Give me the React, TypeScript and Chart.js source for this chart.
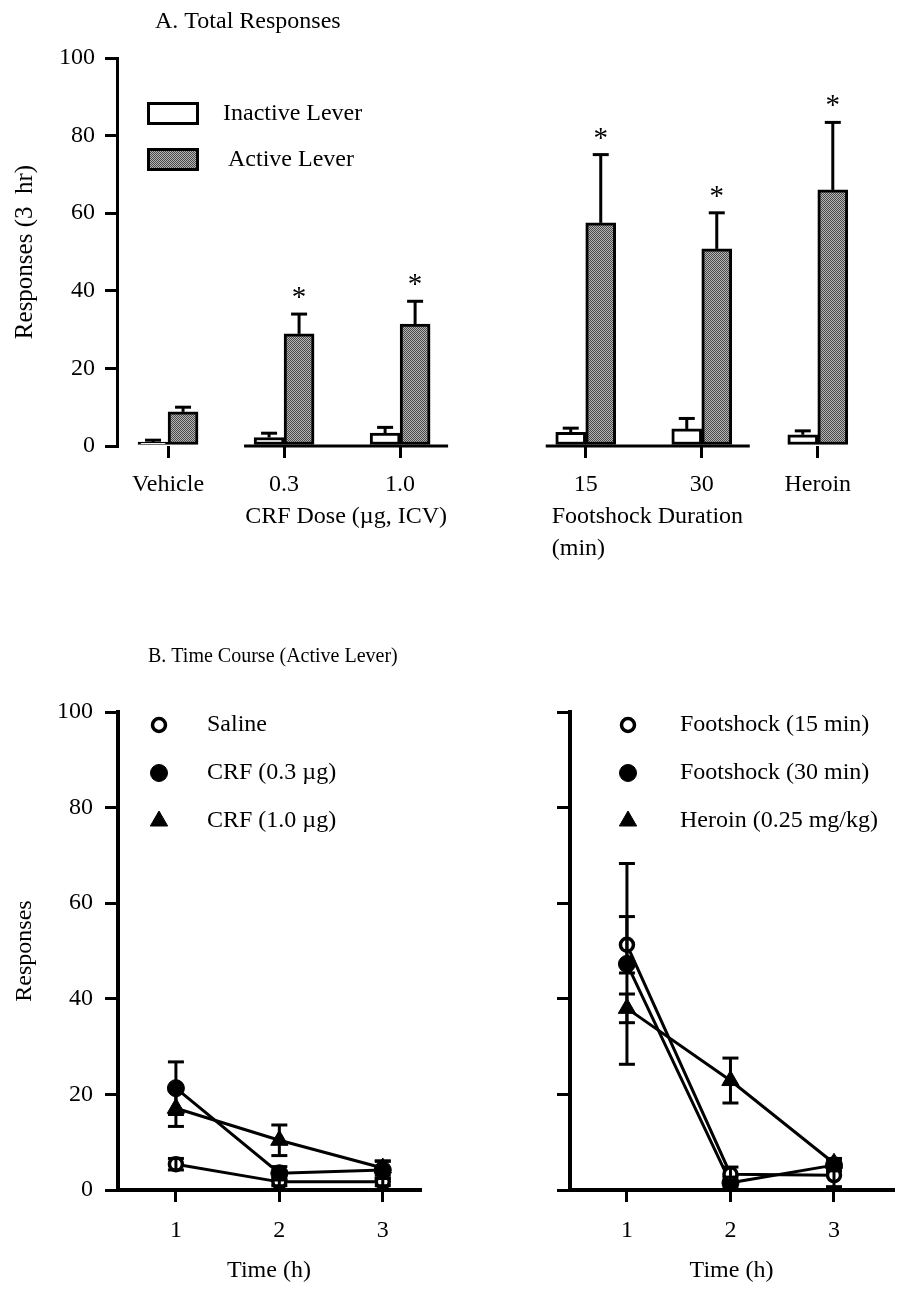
import React, { useEffect, useRef } from 'react';
import { Chart, registerables } from 'chart.js';

Chart.register(...registerables);

const FONT = '"Liberation Serif", "Times New Roman", Times, serif';
Chart.defaults.font.family = FONT;
Chart.defaults.color = '#000';

// ---------- Panel A: Total Responses ----------
const groupLabels = ['Vehicle', '0.3', '1.0', '15', '30', 'Heroin'];
const groupPositions = [1, 2, 3, 4.6, 5.6, 6.6];
const inactiveMeans = [1.0, 2.2, 3.3, 3.5, 4.4, 2.9];
const inactiveSem = [0.5, 1.1, 1.5, 1.1, 2.7, 1.0];
const activeMeans = [8.8, 28.9, 31.4, 57.5, 50.8, 66.0];
const activeSem = [1.2, 5.1, 5.9, 17.6, 9.3, 17.4];
const activeSignificant = [false, true, true, true, true, true];
const yTicksA = [0, 20, 40, 60, 80, 100];
const baselineGroups = [[1, 2], [3, 4]];

// ---------- Panel B: Time Course (Active Lever) ----------
const hours = [1, 2, 3];
const yTicksB = [0, 20, 40, 60, 80, 100];
const salineMeans = [5.4, 1.7, 1.7];
const salineSem = [1.2, 0.8, 0.8];
const crf03Means = [21.3, 3.5, 4.2];
const crf03Sem = [5.5, 1.4, 1.8];
const crf10Means = [17.1, 10.4, 4.6];
const crf10Sem = [3.8, 3.2, 1.5];
const fs15Means = [51.3, 3.3, 3.1];
const fs15Sem = [5.9, 1.5, 2.4];
const fs30Means = [47.3, 1.5, 5.2];
const fs30Sem = [21.0, 1.2, 1.2];
const heroinMeans = [38.0, 22.9, 5.6];
const heroinSem = [3.0, 4.7, 1.0];

const f = (size: number, style = 'normal') => ({ family: FONT, size, style: style as any });

function makePattern(): any {
  const c = document.createElement('canvas');
  c.width = 4;
  c.height = 4;
  const g = c.getContext('2d')!;
  g.fillStyle = '#b4b4b4';
  g.fillRect(0, 0, 4, 4);
  g.fillStyle = '#4a4a4a';
  for (let yy = 0; yy < 4; yy++) for (let xx = 0; xx < 4; xx++) if ((xx + yy) % 2 === 0) g.fillRect(xx, yy, 1, 1);
  return g.createPattern(c, 'repeat');
}

function line(ctx: CanvasRenderingContext2D, x1: number, y1: number, x2: number, y2: number) {
  ctx.beginPath();
  ctx.moveTo(x1, y1);
  ctx.lineTo(x2, y2);
  ctx.stroke();
}

function drawMarker(ctx: CanvasRenderingContext2D, ds: any, x: number, y: number) {
  const r = ds.pointRadius;
  ctx.save();
  ctx.beginPath();
  if (ds.pointStyle === 'triangle') {
    ctx.moveTo(x, y - r);
    ctx.lineTo(x + 0.866 * r, y + 0.5 * r);
    ctx.lineTo(x - 0.866 * r, y + 0.5 * r);
    ctx.closePath();
  } else {
    ctx.arc(x, y, r, 0, Math.PI * 2);
  }
  ctx.fillStyle = ds.pointBackgroundColor;
  ctx.fill();
  ctx.lineWidth = ds.pointBorderWidth;
  ctx.strokeStyle = ds.pointBorderColor;
  ctx.stroke();
  ctx.restore();
}

const panelAPlugin = {
  id: 'panelA',
  afterDatasetsDraw(chart: any) {
    const { ctx, chartArea, scales } = chart;
    const x = scales.x;
    const y = scales.y;
    ctx.save();
    ctx.strokeStyle = '#000';
    ctx.fillStyle = '#000';
    ctx.lineWidth = 3;
    // baselines under grouped conditions
    const y0 = y.getPixelForValue(0);
    baselineGroups.forEach(([a, b]) => {
      const e0 = chart.getDatasetMeta(0).data[a];
      const e1 = chart.getDatasetMeta(1).data[b];
      line(ctx, e0.x - e0.width / 2 - 10, y0, e1.x + e1.width / 2 + 18, y0);
    });
    // error bars (upward SEM) + significance
    const series = [
      [inactiveMeans, inactiveSem],
      [activeMeans, activeSem],
    ];
    series.forEach(([m, s], d) => {
      chart.getDatasetMeta(d).data.forEach((el: any, i: number) => {
        const top = y.getPixelForValue(m[i] + s[i]);
        line(ctx, el.x, el.y, el.x, top);
        line(ctx, el.x - 8, top, el.x + 8, top);
        if (d === 1 && activeSignificant[i]) {
          ctx.font = `29px ${FONT}`;
          ctx.textAlign = 'center';
          ctx.textBaseline = 'alphabetic';
          ctx.fillText('*', el.x, top - 8);
        }
      });
    });
    // title
    ctx.font = `24px ${FONT}`;
    ctx.textAlign = 'left';
    ctx.textBaseline = 'middle';
    ctx.fillText('A. Total Responses', 155, 22);
    // group sub-labels
    const b = chartArea.bottom;
    ctx.textAlign = 'center';
    ctx.fillText('CRF Dose (\u00b5g, ICV)', (x.getPixelForValue(groupPositions[1]) + x.getPixelForValue(groupPositions[2])) / 2 + 4, b + 71);
    ctx.textAlign = 'left';
    const fsLeft = x.getPixelForValue(groupPositions[3]) - 34;
    ctx.fillText('Footshock Duration', fsLeft, b + 71);
    ctx.fillText('(min)', fsLeft, b + 103);
    // legend
    const lx = chartArea.left + 30;
    const items = [
      { ds: chart.data.datasets[0], top: chartArea.top + 44, tx: chartArea.left + 106 },
      { ds: chart.data.datasets[1], top: chartArea.top + 90, tx: chartArea.left + 111 },
    ];
    items.forEach(({ ds, top, tx }) => {
      ctx.fillStyle = ds.backgroundColor;
      ctx.fillRect(lx, top, 52, 23);
      ctx.lineWidth = 3;
      ctx.strokeStyle = '#000';
      ctx.strokeRect(lx + 1.5, top + 1.5, 49, 20);
      ctx.fillStyle = '#000';
      ctx.textBaseline = 'middle';
      ctx.font = `24px ${FONT}`;
      ctx.fillText(ds.label, tx, top + 12);
    });
    ctx.restore();
  },
};

function configA(): any {
  const pattern = makePattern();
  return {
    type: 'bar',
    data: {
      datasets: [
        {
          label: 'Inactive Lever',
          data: groupPositions.map((v, i) => ({ x: v, y: inactiveMeans[i] })),
          backgroundColor: '#ffffff',
          borderColor: '#000',
          borderWidth: 3,
          borderSkipped: false,
          barThickness: 30,
        },
        {
          label: 'Active Lever',
          data: groupPositions.map((v, i) => ({ x: v, y: activeMeans[i] })),
          backgroundColor: pattern,
          borderColor: '#000',
          borderWidth: 3,
          borderSkipped: false,
          barThickness: 30,
        },
      ],
    },
    options: {
      animation: false,
      responsive: false,
      layout: { padding: { top: 58, right: 34, left: 0, bottom: 0 } },
      plugins: { legend: { display: false }, tooltip: { enabled: false } },
      scales: {
        x: {
          type: 'linear',
          min: 0.56,
          max: 7.05,
          offset: false,
          afterBuildTicks: (s: any) => {
            s.ticks = groupPositions.map((v) => ({ value: v }));
          },
          afterFit: (s: any) => {
            s.height = 154;
          },
          border: { display: false },
          grid: { offset: false, drawOnChartArea: false, drawTicks: true, tickLength: 12, lineWidth: 3, color: '#000' },
          ticks: {
            autoSkip: false,
            maxRotation: 0,
            padding: 12,
            font: f(24),
            color: '#000',
            callback: (_v: any, i: number) => groupLabels[i],
          },
        },
        y: {
          min: 0,
          max: 100,
          afterBuildTicks: (s: any) => {
            s.ticks = yTicksA.map((v) => ({ value: v }));
          },
          afterFit: (s: any) => {
            s.width = 117;
          },
          border: { display: true, width: 3, color: '#000' },
          grid: { drawOnChartArea: false, drawTicks: true, tickLength: 12, lineWidth: 3, color: '#000' },
          ticks: { padding: 10, font: f(24), color: '#000' },
          title: { display: true, text: 'Responses (3  hr)', font: f(25), color: '#000', padding: { top: 10, bottom: 0 } },
        },
      },
    },
    plugins: [panelAPlugin],
  };
}

const panelBPlugin = {
  id: 'panelB',
  afterDatasetsDraw(chart: any, _args: any, opts: any) {
    const { ctx, chartArea, scales } = chart;
    const y = scales.y;
    ctx.save();
    ctx.strokeStyle = '#000';
    ctx.lineWidth = 3;
    chart.data.datasets.forEach((ds: any, d: number) => {
      const sem = ds.sem as number[];
      chart.getDatasetMeta(d).data.forEach((el: any, i: number) => {
        const m = ds.data[i].y;
        const top = y.getPixelForValue(m + sem[i]);
        const bot = y.getPixelForValue(Math.max(0, m - sem[i]));
        line(ctx, el.x, top, el.x, bot);
        line(ctx, el.x - 8, top, el.x + 8, top);
        line(ctx, el.x - 8, bot, el.x + 8, bot);
      });
    });
    // legend
    chart.data.datasets.forEach((ds: any, d: number) => {
      const yy = chartArea.top + 13 + d * 48;
      drawMarker(ctx, ds, chartArea.left + opts.markerX, yy);
      ctx.fillStyle = '#000';
      ctx.font = `24px ${FONT}`;
      ctx.textAlign = 'left';
      ctx.textBaseline = 'middle';
      ctx.fillText(ds.label, chartArea.left + opts.textX, yy);
    });
    if (opts.title) {
      ctx.font = `20px ${FONT}`;
      ctx.textAlign = 'left';
      ctx.textBaseline = 'middle';
      ctx.fillText(opts.title, 148, 37);
    }
    ctx.restore();
  },
};

function lineDs(label: string, means: number[], sem: number[], kind: 'open' | 'filled' | 'triangle') {
  return {
    label,
    data: hours.map((h, i) => ({ x: h, y: means[i] })),
    sem,
    borderColor: '#000',
    borderWidth: 3,
    pointStyle: kind === 'triangle' ? 'triangle' : 'circle',
    pointRadius: kind === 'open' ? 6.5 : kind === 'filled' ? 8.5 : 10,
    pointBackgroundColor: kind === 'open' ? '#fff' : '#000',
    pointBorderColor: '#000',
    pointBorderWidth: kind === 'open' ? 3.5 : 1,
    fill: false,
    tension: 0,
  };
}

function configB(datasets: any[], o: { yWidth: number; padRight: number; min: number; max: number; showY: boolean; title?: string; markerX: number; textX: number }): any {
  return {
    type: 'line',
    data: { datasets },
    options: {
      animation: false,
      responsive: false,
      layout: { padding: { top: 92, right: o.padRight, left: 0, bottom: 0 } },
      plugins: {
        legend: { display: false },
        tooltip: { enabled: false },
        panelB: { title: o.title, markerX: o.markerX, textX: o.textX },
      },
      scales: {
        x: {
          type: 'linear',
          min: o.min,
          max: o.max,
          afterBuildTicks: (s: any) => {
            s.ticks = hours.map((v) => ({ value: v }));
          },
          afterFit: (s: any) => {
            s.height = 105;
          },
          border: { display: true, width: 4, color: '#000' },
          grid: { drawOnChartArea: false, drawTicks: true, tickLength: 12, lineWidth: 3, color: '#000' },
          ticks: { padding: 14, font: f(24), color: '#000', callback: (v: any) => String(v) },
          title: { display: true, text: 'Time (h)', font: f(24), color: '#000', padding: { top: 0, bottom: 10 } },
        },
        y: {
          min: 0,
          max: 100,
          afterBuildTicks: (s: any) => {
            s.ticks = yTicksB.map((v) => ({ value: v }));
          },
          afterFit: (s: any) => {
            s.width = o.yWidth;
          },
          border: { display: true, width: 4, color: '#000' },
          grid: { drawOnChartArea: false, drawTicks: true, tickLength: 13, lineWidth: 3, color: '#000' },
          ticks: { display: o.showY, padding: 12, font: f(24), color: '#000' },
          title: { display: o.showY, text: 'Responses', font: f(24), color: '#000', padding: { top: 10, bottom: 0 } },
        },
      },
    },
    plugins: [panelBPlugin],
  };
}

export default function App() {
  const aRef = useRef<HTMLCanvasElement>(null);
  const blRef = useRef<HTMLCanvasElement>(null);
  const brRef = useRef<HTMLCanvasElement>(null);

  useEffect(() => {
    document.body.style.margin = '0';
    const charts: Chart[] = [];
    charts.push(new Chart(aRef.current!, configA()));
    charts.push(
      new Chart(
        blRef.current!,
        configB(
          [
            lineDs('Saline', salineMeans, salineSem, 'open'),
            lineDs('CRF (0.3 \u00b5g)', crf03Means, crf03Sem, 'filled'),
            lineDs('CRF (1.0 \u00b5g)', crf10Means, crf10Sem, 'triangle'),
          ],
          { yWidth: 118, padRight: 30, min: 0.44, max: 3.36, showY: true, title: 'B. Time Course (Active Lever)', markerX: 41, textX: 89 }
        )
      )
    );
    charts.push(
      new Chart(
        brRef.current!,
        configB(
          [
            lineDs('Footshock (15 min)', fs15Means, fs15Sem, 'open'),
            lineDs('Footshock (30 min)', fs30Means, fs30Sem, 'filled'),
            lineDs('Heroin (0.25 mg/kg)', heroinMeans, heroinSem, 'triangle'),
          ],
          { yWidth: 120, padRight: 11, min: 0.45, max: 3.57, showY: false, markerX: 58, textX: 110 }
        )
      )
    );
    return () => charts.forEach((c) => c.destroy());
  }, []);

  return (
    <div style={{ position: 'relative', width: 904, height: 1295, overflow: 'hidden', background: '#fff' }}>
      <canvas ref={aRef} width={904} height={600} style={{ position: 'absolute', left: 0, top: 0, width: 904, height: 600 }} />
      <canvas ref={blRef} width={450} height={675} style={{ position: 'absolute', left: 0, top: 620, width: 450, height: 675 }} />
      <canvas ref={brRef} width={454} height={675} style={{ position: 'absolute', left: 450, top: 620, width: 454, height: 675 }} />
    </div>
  );
}
